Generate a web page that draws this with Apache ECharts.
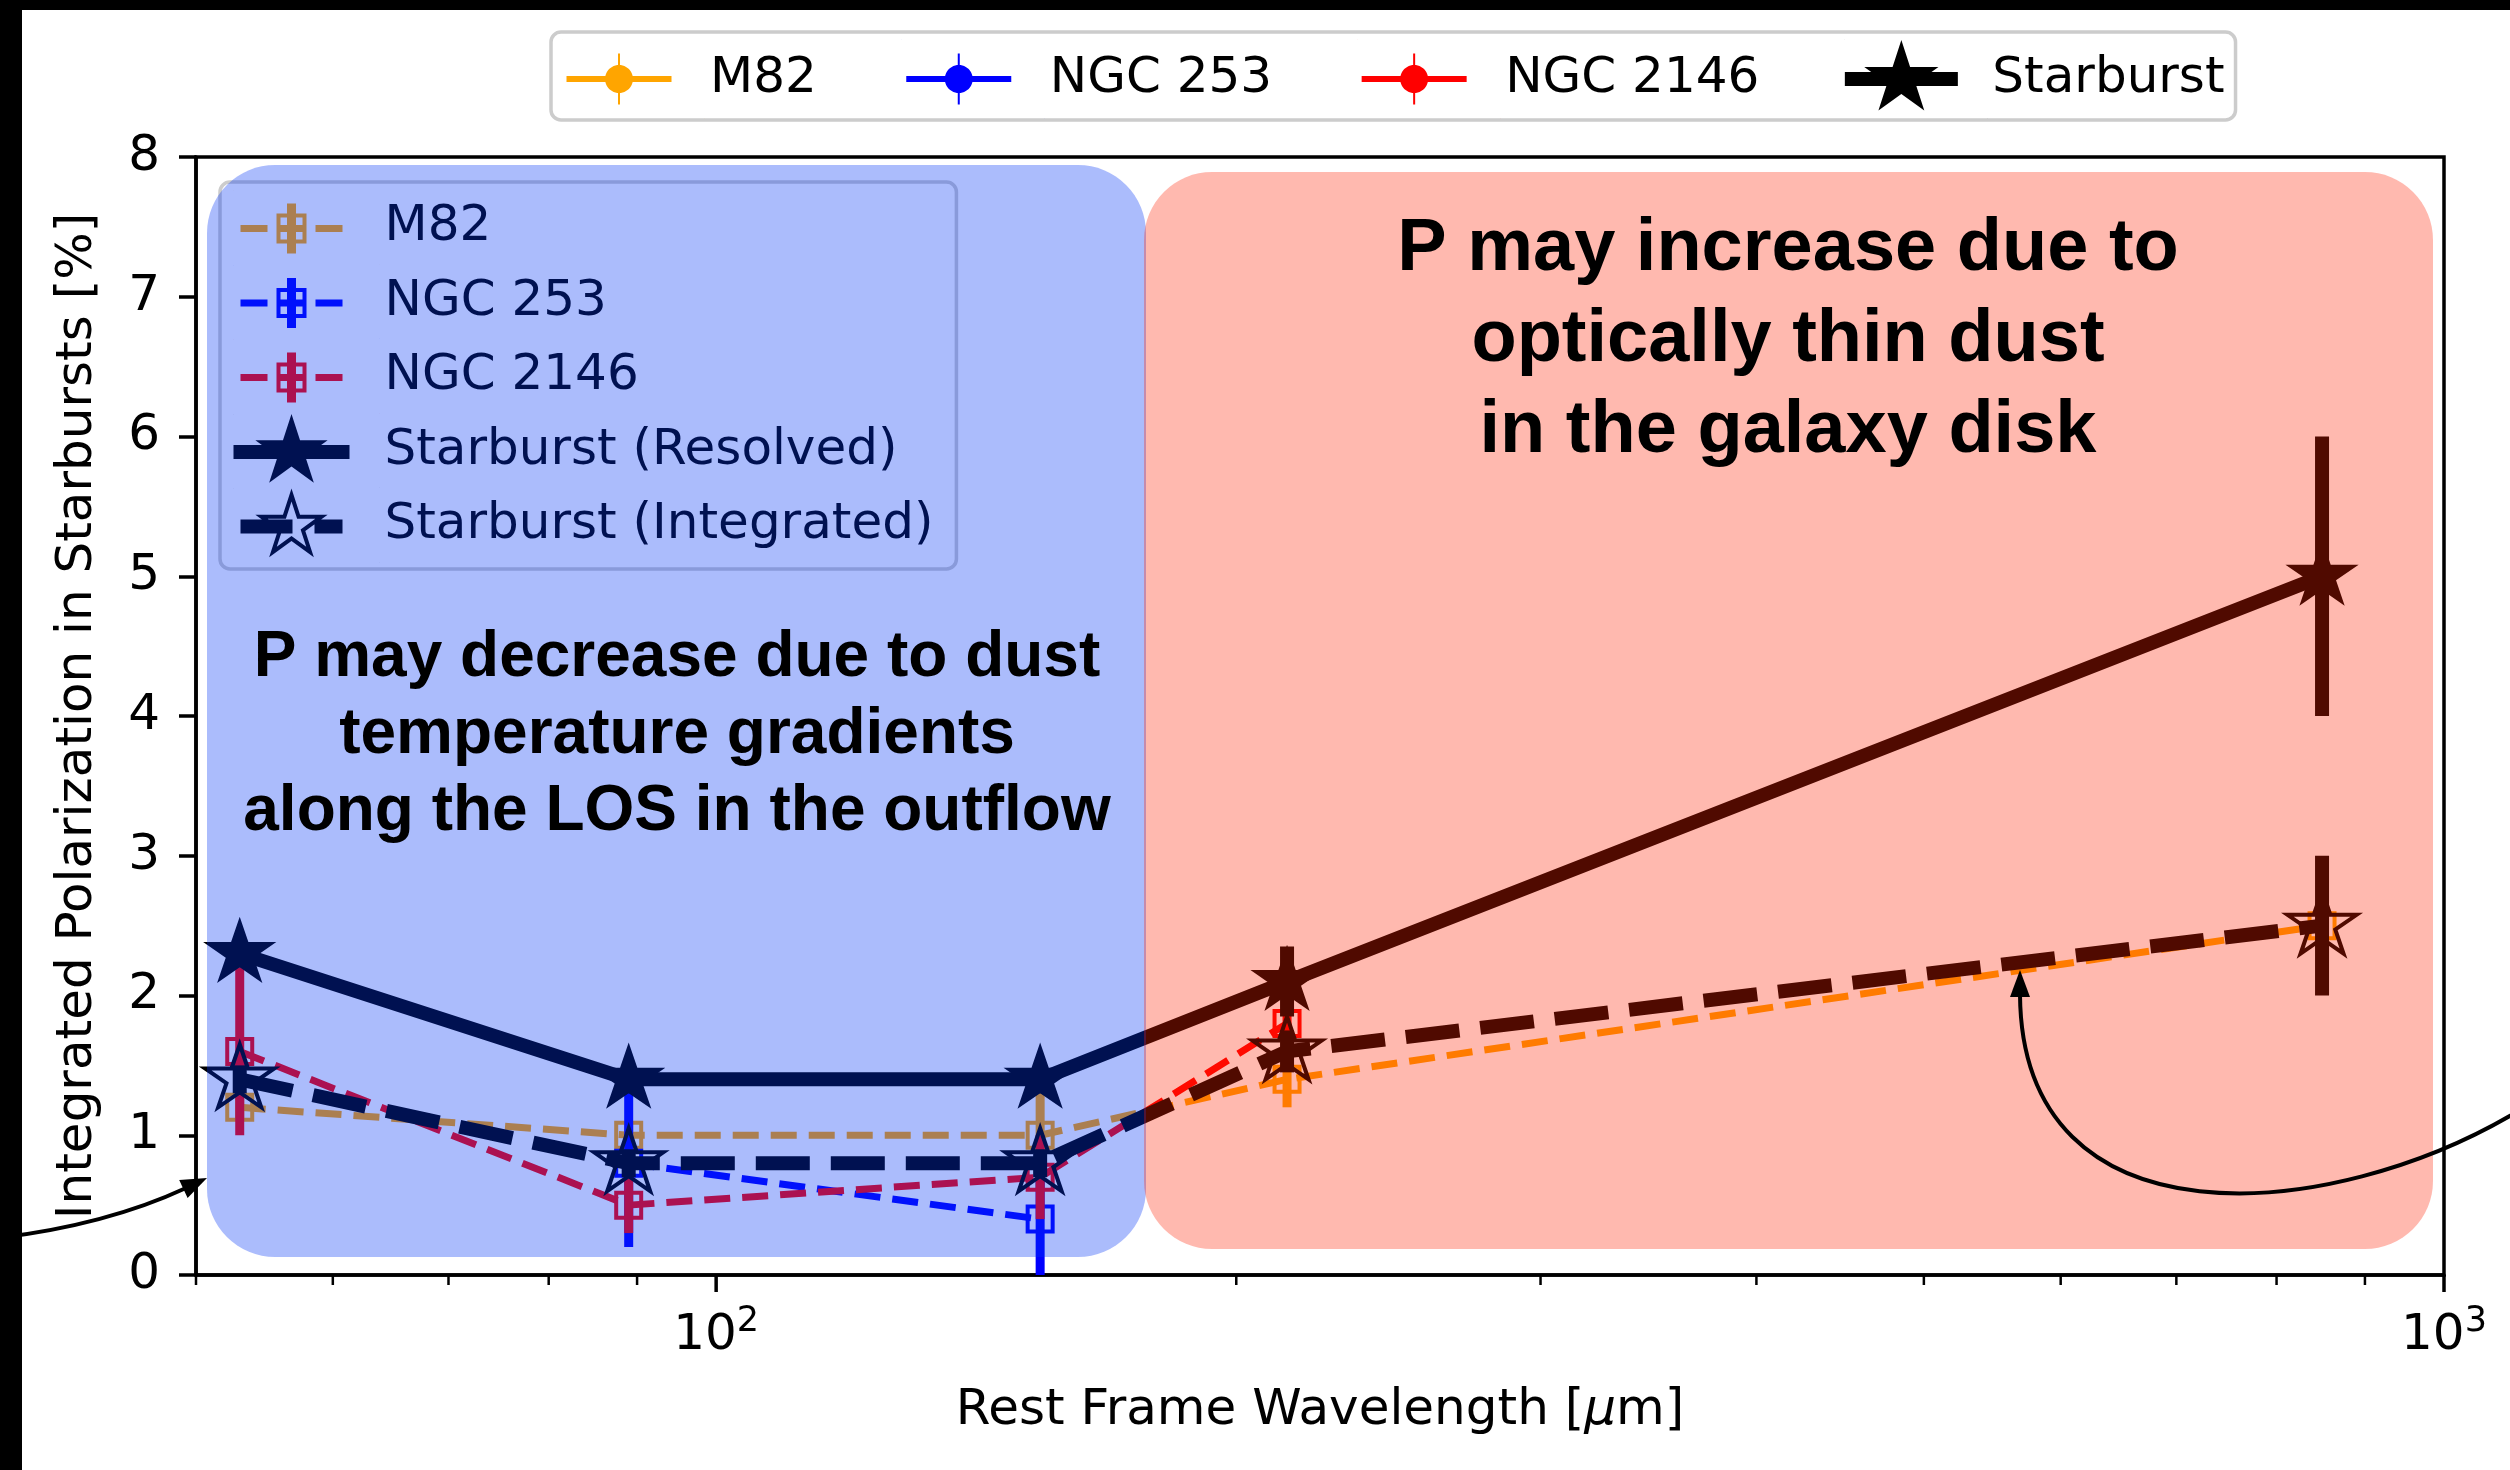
<!DOCTYPE html>
<html>
<head>
<meta charset="utf-8">
<script src="https://cdn.jsdelivr.net/npm/echarts@6.0.0/dist/echarts.min.js"></script>
<style>
html,body{margin:0;padding:0;background:#ffffff;}
#chart{width:2510px;height:1470px;}
</style>
</head>
<body>
<div id="chart"></div>
<script>
// ---------------- data ----------------
const m82Wave = [53, 89, 154, 214, 850];
const m82P = [1.2, 1.0, 1.0, 1.4, 2.5];
const m82Err = [0.1, 0.1, 0.4, 0.2, 0.1];

const ngc253Wave = [89, 154];
const ngc253P = [0.8, 0.4];
const ngc253Err = [0.6, 0.45];

const ngc2146Wave = [53, 89, 154, 214];
const ngc2146P = [1.6, 0.5, 0.7, 1.8];
const ngc2146Err = [0.6, 0.2, 0.3, 0.1];

const resolvedWave = [53, 89, 154, 214, 850];
const resolvedP = [2.3, 1.4, 1.4, 2.1, 5.0];
const resolvedErr = [0.1, 0.1, 0.1, 0.25, 1.0];

const integratedWave = [53, 89, 154, 214, 850];
const integratedP = [1.4, 0.8, 0.8, 1.6, 2.5];
const integratedErr = [0.1, 0.1, 0.1, 0.15, 0.5];

const xMajorTicks = [100, 1000];
const xMinorTicks = [50, 60, 70, 80, 90, 200, 300, 400, 500, 600, 700, 800, 900];

const outerLegendNames = ['M82', 'NGC 253', 'NGC 2146', 'Starburst'];
const innerLegendNames = ['M82', 'NGC 253', 'NGC 2146', 'Starburst (Resolved)', 'Starburst (Integrated)'];

const xAxisTitle = 'Rest Frame Wavelength [{i|\u03bc}m]';
const yAxisTitle = 'Integrated Polarization in Starbursts [%]';
const blueNote = 'P may decrease due to dust\ntemperature gradients\nalong the LOS in the outflow';
const redNote = 'P may increase due to\noptically thin dust\nin the galaxy disk';

// ---------------- colours ----------------
const C_M82 = '#ffa500', C_253 = '#0000ff', C_2146 = '#ff0000', C_SB = '#000000';
const FONT = 'DejaVu Sans';

// ---------------- shape helpers ----------------
function pts2path(p) { return 'M' + p.map(q => q[0].toFixed(3) + ' ' + q[1].toFixed(3)).join(' L') + ' Z '; }
function rectP(x0, y0, x1, y1, ccw) { const p = [[x0, y0], [x1, y0], [x1, y1], [x0, y1]]; if (ccw) p.reverse(); return pts2path(p); }
function starPts(cx, cy, R) {
  const r = R * 0.381966, p = [];
  for (let k = 0; k < 10; k++) {
    const a = (-90 + k * 36) * Math.PI / 180, rad = (k % 2) ? r : R;
    p.push([cx + rad * Math.cos(a), cy + rad * Math.sin(a)]);
  }
  return p;
}
function starP(cx, cy, R, ccw) { const p = starPts(cx, cy, R); if (ccw) p.reverse(); return pts2path(p); }
function circleP(cx, cy, r) { const p = []; for (let k = 0; k < 48; k++) { const a = k / 48 * 2 * Math.PI; p.push([cx + r * Math.cos(a), cy + r * Math.sin(a)]); } return pts2path(p); }
function frameP(W, H) { return rectP(0, 0, 0.15, 0.15) + rectP(W - 0.15, H - 0.15, W, H); }

const starSymbol = 'path://' + starP(0, 0, 100);

// outer legend icons
const OW = 143, OH = 80, OCX = 57, OCY = 40;
const outerGalaxyIcon = 'path://' + rectP(OCX - 52.5, OCY - 3, OCX + 52.5, OCY + 3) + circleP(OCX, OCY, 14) +
  rectP(OCX - 1, OCY - 25.5, OCX + 1, OCY + 25.5) + frameP(OW, OH);
const outerStarIcon = 'path://' + rectP(OCX - 56.5, OCY - 7, OCX + 56.5, OCY + 7) + starP(OCX, OCY, 39) + frameP(OW, OH);

// inner legend icons
const IW = 146, IH = 74, ICX = 58, ICY = 38;
const innerGalaxyIcon = 'path://' +
  rectP(ICX - 51, ICY - 3.5, ICX - 24, ICY + 3.5) +
  rectP(ICX - 13, ICY - 3.5, ICX + 13, ICY + 3.5) +
  rectP(ICX + 24, ICY - 3.5, ICX + 51, ICY + 3.5) +
  rectP(ICX - 4.5, ICY - 25, ICX + 4.5, ICY + 25) +
  rectP(ICX - 15, ICY - 15, ICX + 15, ICY + 15) + rectP(ICX - 11, ICY - 11, ICX + 11, ICY + 11, true) +
  frameP(IW, IH);
const innerResolvedIcon = 'path://' + rectP(ICX - 58, ICY - 7, ICX + 58, ICY + 7) + starP(ICX, ICY, 38) + frameP(IW, IH);
const innerIntegratedIcon = 'path://' + rectP(ICX - 51, ICY - 7, ICX + 1, ICY + 7) + rectP(ICX + 23, ICY - 7, ICX + 51, ICY + 7) +
  starP(ICX, ICY, 38) + starP(ICX, ICY, 38 * (0.309 * 38 - 4) / (0.309 * 38), true) + frameP(IW, IH);

// ---------------- series builders ----------------
let zc = 2;
function errSeries(name, wave, vals, errs, color, width) {
  return {
    name: name, type: 'custom', clip: true, silent: true, z: zc++,
    data: wave.map((w, i) => [w, vals[i] - errs[i], vals[i] + errs[i]]),
    encode: { x: 0, y: [1, 2] },
    renderItem: function (params, api) {
      const a = api.coord([api.value(0), api.value(1)]);
      const b = api.coord([api.value(0), api.value(2)]);
      return { type: 'line', shape: { x1: a[0], y1: a[1], x2: b[0], y2: b[1] },
        style: { stroke: color, lineWidth: width, lineCap: 'butt' } };
    }
  };
}
function lineSeries(name, wave, vals, opts) {
  return Object.assign({
    name: name, type: 'line', silent: true, z: zc++, showSymbol: true, showAllSymbol: true,
    emphasis: { disabled: true }, legendHoverLink: false,
    data: wave.map((w, i) => [w, vals[i]])
  }, opts);
}
function tickSeries(vals, len, width) {
  return {
    type: 'custom', clip: false, silent: true, z: 30,
    data: vals.map(v => [v, 0]),
    encode: { x: 0, y: 1 },
    renderItem: function (params, api) {
      const c = api.coord([api.value(0), 0]);
      return { type: 'line', shape: { x1: c[0], y1: c[1], x2: c[0], y2: c[1] + len },
        style: { stroke: '#000', lineWidth: width } };
    }
  };
}

const galaxySquare = (color) => ({
  symbol: 'rect', symbolSize: 25,
  itemStyle: { color: 'rgba(0,0,0,0)', borderColor: color, borderWidth: 4 },
  lineStyle: { color: color, width: 7, type: [26, 12], cap: 'butt' }
});

const series = [
  errSeries('M82 err', m82Wave, m82P, m82Err, C_M82, 9),
  lineSeries('M82', m82Wave, m82P, galaxySquare(C_M82)),
  errSeries('NGC 253 err', ngc253Wave, ngc253P, ngc253Err, C_253, 9),
  lineSeries('NGC 253', ngc253Wave, ngc253P, galaxySquare(C_253)),
  errSeries('NGC 2146 err', ngc2146Wave, ngc2146P, ngc2146Err, C_2146, 9),
  lineSeries('NGC 2146', ngc2146Wave, ngc2146P, galaxySquare(C_2146)),
  errSeries('Resolved err', resolvedWave, resolvedP, resolvedErr, C_SB, 14),
  lineSeries('Starburst (Resolved)', resolvedWave, resolvedP, {
    symbol: starSymbol, symbolKeepAspect: true,
    symbolSize: [1.902 * 38.5, 1.809 * 38.5], symbolOffset: [0, -3.7],
    itemStyle: { color: C_SB, borderWidth: 0 },
    lineStyle: { color: C_SB, width: 14, join: 'round', cap: 'square' }
  }),
  errSeries('Integrated err', integratedWave, integratedP, integratedErr, C_SB, 14),
  lineSeries('Starburst (Integrated)', integratedWave, integratedP, {
    symbol: starSymbol, symbolKeepAspect: true,
    symbolSize: [1.902 * 36.5, 1.809 * 36.5], symbolOffset: [0, -3.5],
    itemStyle: { color: 'rgba(0,0,0,0)', borderColor: C_SB, borderWidth: 4 },
    lineStyle: { color: C_SB, width: 14, type: [54, 21], cap: 'butt' }
  }),
  { name: 'Starburst', type: 'line', data: [], silent: true },
  tickSeries(xMinorTicks, 10, 2.5),
  tickSeries(xMajorTicks, 17, 3.5)
];

const outerIcons = [outerGalaxyIcon, outerGalaxyIcon, outerGalaxyIcon, outerStarIcon];
const outerColors = [C_M82, C_253, C_2146, C_SB];
const innerIcons = [innerGalaxyIcon, innerGalaxyIcon, innerGalaxyIcon, innerResolvedIcon, innerIntegratedIcon];
const innerColors = [C_M82, C_253, C_2146, C_SB, C_SB];

const option = {
  animation: false,
  backgroundColor: '#ffffff',
  grid: { left: 196, top: 157, width: 2248, height: 1118, show: true, borderColor: '#000', borderWidth: 3.5, backgroundColor: 'rgba(0,0,0,0)' },
  xAxis: {
    type: 'log', logBase: 10, min: 50, max: 1000,
    name: xAxisTitle, nameLocation: 'middle', nameGap: 111,
    nameTextStyle: { fontSize: 50, fontFamily: FONT, color: '#000',
      rich: { i: { fontSize: 50, fontFamily: FONT, fontStyle: 'italic', color: '#000' } } },
    axisLine: { lineStyle: { color: '#000', width: 3.5 } },
    axisTick: { show: false },
    splitLine: { show: false },
    minorTick: { show: false },
    axisLabel: {
      margin: 29, showMinLabel: true, showMaxLabel: true, hideOverlap: false,
      formatter: function (v) {
        const e = Math.log10(v);
        if (Math.abs(e - Math.round(e)) < 1e-6 && Math.round(e) >= 2) return '{b|10}{s|' + Math.round(e) + '}';
        return '';
      },
      rich: {
        b: { fontSize: 50, fontFamily: FONT, color: '#000', lineHeight: 65 },
        s: { fontSize: 35, fontFamily: FONT, color: '#000', lineHeight: 35, verticalAlign: 'top' }
      }
    }
  },
  yAxis: {
    type: 'value', min: 0, max: 8, interval: 1,
    name: yAxisTitle, nameLocation: 'middle', nameGap: 93,
    nameTextStyle: { fontSize: 50, fontFamily: FONT, color: '#000' },
    axisLine: { show: true, lineStyle: { color: '#000', width: 3.5 } },
    axisTick: { show: true, length: 17, lineStyle: { color: '#000', width: 3.5 } },
    splitLine: { show: false },
    axisLabel: { fontSize: 50, fontFamily: FONT, color: '#000', margin: 36 }
  },
  legend: [
    {
      orient: 'horizontal', left: 551, top: 32, padding: [7, 11, 1, 11],
      itemWidth: OW, itemHeight: OH, itemGap: 85, selectedMode: false, z: 20,
      backgroundColor: 'rgba(255,255,255,0.8)', borderColor: '#cccccc', borderWidth: 3.5, borderRadius: 10,
      textStyle: { fontSize: 50, fontFamily: FONT, color: '#000' },
      data: outerLegendNames.map((n, i) => ({ name: n, icon: outerIcons[i], itemStyle: { color: outerColors[i], borderWidth: 0, opacity: 1 } }))
    },
    {
      orient: 'vertical', left: 220, top: 182, padding: [8.5, 23, 6.5, 13.5],
      itemWidth: IW, itemHeight: IH, itemGap: 0.5, selectedMode: false, z: 20,
      backgroundColor: 'rgba(255,255,255,0.8)', borderColor: '#cccccc', borderWidth: 3.5, borderRadius: 10,
      textStyle: { fontSize: 50, fontFamily: FONT, color: '#000' },
      data: innerLegendNames.map((n, i) => ({ name: n, icon: innerIcons[i], itemStyle: { color: innerColors[i], borderWidth: 0, opacity: 1 } }))
    }
  ],
  series: series,
  graphic: [
    { type: 'rect', silent: true, z: 50, shape: { x: 207, y: 165, width: 939, height: 1092, r: 68 }, style: { fill: 'rgba(0,51,245,0.33)' } },
    { type: 'rect', silent: true, z: 50, shape: { x: 1144, y: 172, width: 1289, height: 1077, r: 68 }, style: { fill: 'rgba(255,32,0,0.314)' } },
    { type: 'text', silent: true, z: 60, x: 677, y: 735,
      style: { text: blueNote, fontSize: 64, fontWeight: 'bold', fontFamily: 'Liberation Sans', fill: '#000', align: 'center', verticalAlign: 'middle', lineHeight: 77 } },
    { type: 'text', silent: true, z: 60, x: 1788, y: 341,
      style: { text: redNote, fontSize: 74, fontWeight: 'bold', fontFamily: 'Liberation Sans', fill: '#000', align: 'center', verticalAlign: 'middle', lineHeight: 91 } },
    { type: 'bezierCurve', silent: true, z: 60, shape: { x1: -20, y1: 1240, cpx1: 100, cpy1: 1228, x2: 186, y2: 1188 }, style: { stroke: '#000', lineWidth: 4, fill: null } },
    { type: 'polygon', silent: true, z: 60, shape: { points: [[207, 1178], [187.6, 1198.1], [179.2, 1179.9]] }, style: { fill: '#000' } },
    { type: 'bezierCurve', silent: true, z: 60, shape: { x1: 2520, y1: 1110, cpx1: 2330, cpy1: 1225, cpx2: 2022, cpy2: 1250, x2: 2020, y2: 995 }, style: { stroke: '#000', lineWidth: 4, fill: null } },
    { type: 'polygon', silent: true, z: 60, shape: { points: [[2020, 970], [2010, 997], [2030, 997]] }, style: { fill: '#000' } },
    { type: 'rect', silent: true, z: 100, shape: { x: 0, y: 0, width: 22, height: 1470 }, style: { fill: '#000' } },
    { type: 'rect', silent: true, z: 100, shape: { x: 0, y: 0, width: 2510, height: 10 }, style: { fill: '#000' } }
  ]
};

const chart = echarts.init(document.getElementById('chart'), null, { renderer: 'canvas' });
chart.setOption(option);
</script>
</body>
</html>
